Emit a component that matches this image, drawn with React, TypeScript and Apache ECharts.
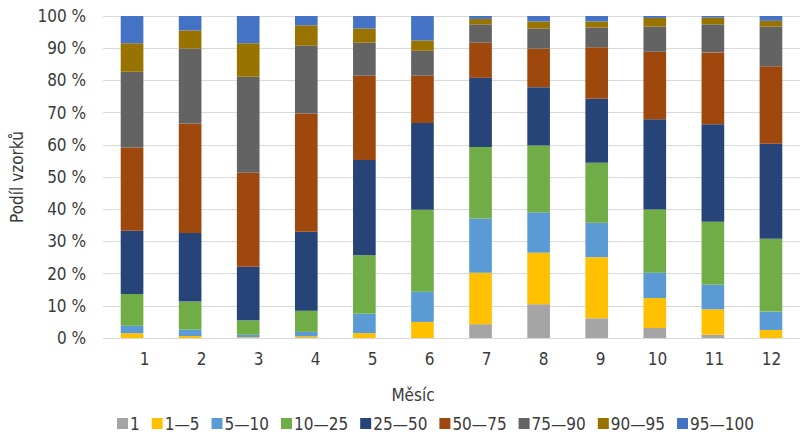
import React, { useEffect, useRef } from "react";
import * as echarts from "echarts";

const months = ["1", "2", "3", "4", "5", "6", "7", "8", "9", "10", "11", "12"];
const yTicks = { min: 0, max: 100, interval: 10 };

const seriesNames = ["1", "1—5", "5—10", "10—25", "25—50", "50—75", "75—90", "90—95", "95—100"];
const seriesColors = ["#A5A5A5", "#FFC000", "#5B9BD5", "#70AD47", "#264478", "#9E480E", "#636363", "#997300", "#4472C4"];

const s1 = [0, 0, 0, 0, 0, 0, 4.3, 10.5, 6.1, 3.1, 1.0, 0];
const s1to5 = [1.5, 0.6, 0.2, 0.5, 1.5, 5.0, 16.0, 16.0, 19.0, 9.3, 7.9, 2.5];
const s5to10 = [2.3, 2.0, 0.8, 1.4, 6.0, 9.4, 16.8, 12.5, 10.7, 7.9, 7.6, 5.7];
const s10to25 = [9.9, 8.7, 4.5, 6.6, 18.2, 25.4, 22.2, 20.8, 18.6, 19.6, 19.6, 22.6];
const s25to50 = [19.6, 21.3, 16.6, 24.5, 29.6, 27.0, 21.5, 18.1, 19.9, 28.0, 30.3, 29.5];
const s50to75 = [25.9, 34.0, 29.2, 36.7, 26.2, 14.7, 10.9, 12.0, 16.0, 21.0, 22.3, 24.1];
const s75to90 = [23.5, 23.3, 29.8, 21.1, 10.2, 7.7, 5.7, 6.2, 6.1, 7.8, 8.7, 12.3];
const s90to95 = [8.8, 5.6, 10.4, 6.3, 4.4, 3.2, 1.7, 2.2, 1.9, 2.7, 2.1, 1.8];
const s95to100 = [8.5, 4.5, 8.5, 2.9, 3.9, 7.6, 0.9, 1.7, 1.7, 0.6, 0.5, 1.5];

const seriesValues = [s1, s1to5, s5to10, s10to25, s25to50, s50to75, s75to90, s90to95, s95to100];

const FONT = "'Liberation Sans Narrow', 'DejaVu Sans Condensed', Roboto, sans-serif";
const TEXT = "#3A3A3A";

export default function App() {
  const ref = useRef<HTMLDivElement>(null);
  useEffect(() => {
    document.body.style.margin = "0";
    if (!ref.current) return;
    const chart = echarts.init(ref.current, undefined, { renderer: "svg" });
    chart.setOption({
      animation: false,
      textStyle: { fontFamily: FONT, color: TEXT },
      grid: [
        { left: 96, right: -2, top: 16, bottom: 100 },
        { left: 116, right: -2, top: 16, bottom: 100 },
      ],
      legend: {
        data: seriesNames,
        left: 112,
        top: 410,
        icon: "rect",
        itemWidth: 11,
        itemHeight: 11,
        itemGap: 12,
        textStyle: { fontFamily: FONT, fontSize: 17, color: TEXT, padding: [0, 0, 0, -3] },
      },
      xAxis: [
        {
          type: "category",
          gridIndex: 0,
          data: months,
          axisLine: { show: false },
          axisTick: { show: false },
          axisLabel: { show: false },
        },
        {
          type: "category",
          gridIndex: 1,
          data: months,
          axisLine: { show: false },
          axisTick: { show: false },
          axisLabel: { fontFamily: FONT, fontSize: 17, color: TEXT, margin: 12 },
          name: "Měsíc",
          nameLocation: "middle",
          nameGap: 48,
          nameTextStyle: { fontFamily: FONT, fontSize: 17, color: TEXT, padding: [0, 0, 0, -90] },
        },
      ],
      yAxis: [
        {
          type: "value",
          gridIndex: 0,
          min: yTicks.min,
          max: yTicks.max,
          interval: yTicks.interval,
          axisLine: { show: false },
          axisTick: { show: false },
          splitLine: { lineStyle: { color: "#D9D9D9", width: 1 } },
          axisLabel: {
            formatter: "{value} %",
            fontFamily: FONT,
            fontSize: 17,
            color: TEXT,
            margin: 17,
            padding: [9, 0, 0, 0],
          },
          name: "Podíl vzorků",
          nameLocation: "middle",
          nameGap: 78,
          nameTextStyle: { fontFamily: FONT, fontSize: 17, color: TEXT },
        },
        { type: "value", gridIndex: 1, show: false, min: 0, max: 1 },
      ],
      series: seriesNames.map((name, i) => ({
        name,
        type: "bar",
        stack: "total",
        xAxisIndex: 0,
        yAxisIndex: 0,
        barWidth: "39%",
        data: seriesValues[i],
        itemStyle: { color: seriesColors[i] },
      })),
    });
    return () => chart.dispose();
  }, []);
  return <div ref={ref} style={{ width: 800, height: 438 }} />;
}
